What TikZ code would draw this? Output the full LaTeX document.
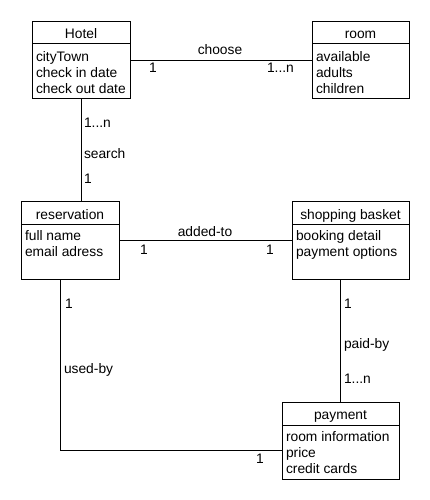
\documentclass[tikz,border=0pt]{standalone}
\usepackage{fontspec}
\setmainfont{Liberation Sans}
\begin{document}
\begin{tikzpicture}[x=1pt,y=-1pt,
  every node/.style={font=\fontsize{13.8}{16}\selectfont, inner sep=0pt, outer sep=0pt},
  cls/.style 2 args={draw, line width=1pt, anchor=north west, minimum width=#1, minimum height=#2},
  title/.style={anchor=base},
  attrs/.style={anchor=north west, align=left},
  lbl/.style={anchor=base west},
  conn/.style={line width=1pt}
]
\useasboundingbox (0,0) rectangle (430,500);

% classes
\node[cls={98pt}{77pt}] (hotel) at (32,22) {};
\draw[line width=1pt] (32,44) -- (130,44);
\node[title] (hotelT) at (81,39) {Hotel};
\node[attrs] (hotelA) at (36,52) {cityTown\\check in date\\check out date};

\node[cls={97pt}{77pt}] (room) at (312,22) {};
\draw[line width=1pt] (312,44) -- (409,44);
\node[title] (roomT) at (360.5,39) {room};
\node[attrs] (roomA) at (316,52) {available\\adults\\children};

\node[cls={98pt}{78pt}] (reservation) at (21,201) {};
\draw[line width=1pt] (21,224) -- (119,224);
\node[title] (resT) at (70,219) {reservation};
\node[attrs] (resA) at (25,230) {full name\\email adress};

\node[cls={117pt}{78pt}] (basket) at (292,201) {};
\draw[line width=1pt] (292,224) -- (409,224);
\node[title] (basT) at (350.5,219) {shopping basket};
\node[attrs] (basA) at (296,230) {booking detail\\payment options};

\node[cls={117pt}{77pt}] (payment) at (282,402) {};
\draw[line width=1pt] (282,425) -- (399,425);
\node[title] (payT) at (340.5,419) {payment};
\node[attrs] (payA) at (286,431) {room information\\price\\credit cards};

% connectors
\draw[conn] (hotel) -- (room);
\draw[conn] (hotel.south) -- (hotel.south |- reservation.north);
\draw[conn] (reservation) -- (basket);
\draw[conn] (payment.north) -- (payment.north |- basket.south);
\draw[conn] ([xshift=-10pt]reservation.south) |- ([yshift=-10pt]payment.west);

% labels
\node[anchor=base] (l1) at (220,55) {choose};
\node[lbl] (l2) at (149,73) {1};
\node[lbl] (l3) at (267,73) {1...n};
\node[lbl] (l4) at (84,128) {1...n};
\node[lbl] (l5) at (84,158) {search};
\node[lbl] (l6) at (84,183) {1};
\node[anchor=base] (l7) at (205,236) {added-to};
\node[lbl] (l8) at (140,254) {1};
\node[lbl] (l9) at (266,254) {1};
\node[lbl] (l10) at (65,308) {1};
\node[lbl] (l11) at (64,373) {used-by};
\node[lbl] (l12) at (256,463) {1};
\node[lbl] (l13) at (344,308) {1};
\node[lbl] (l14) at (344,348) {paid-by};
\node[lbl] (l15) at (344,383) {1...n};
\end{tikzpicture}
\end{document}
